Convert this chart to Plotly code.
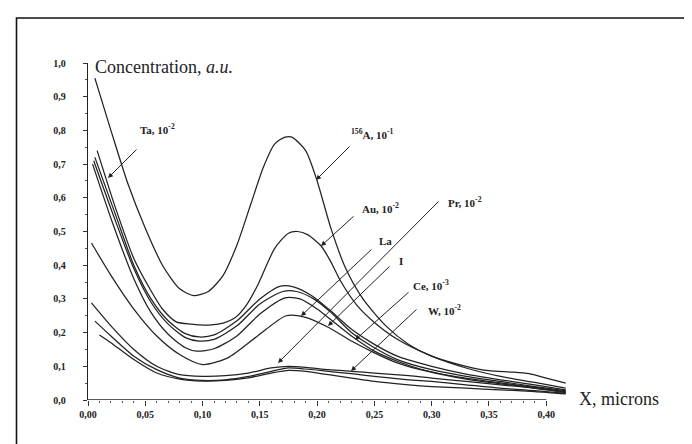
import plotly.graph_objects as go

# ---------------- data ----------------
X_TICKS = [0.00, 0.05, 0.10, 0.15, 0.20, 0.25, 0.30, 0.35, 0.40]
Y_TICKS = [0.0, 0.1, 0.2, 0.3, 0.4, 0.5, 0.6, 0.7, 0.8, 0.9, 1.0]

a156_x = [0.006, 0.02, 0.035, 0.05, 0.065, 0.08, 0.092, 0.105, 0.118, 0.13, 0.142, 0.153,
          0.163, 0.172, 0.178, 0.19, 0.2, 0.212, 0.225, 0.24, 0.26, 0.28, 0.30, 0.33,
          0.35, 0.37, 0.385, 0.40, 0.417]
a156_y = [0.955, 0.80, 0.64, 0.51, 0.40, 0.33, 0.31, 0.322, 0.37, 0.46, 0.58, 0.69,
          0.76, 0.78, 0.78, 0.74, 0.65, 0.51, 0.39, 0.30, 0.22, 0.165, 0.13, 0.10,
          0.087, 0.083, 0.078, 0.065, 0.05]

au_x = [0.008, 0.024, 0.04, 0.054, 0.065, 0.077, 0.09, 0.105, 0.118, 0.128, 0.138, 0.148,
        0.163, 0.175, 0.183, 0.192, 0.2035, 0.212, 0.221, 0.235, 0.25, 0.27, 0.30, 0.33,
        0.36, 0.39, 0.417]
au_y = [0.74, 0.57, 0.42, 0.33, 0.27, 0.232, 0.225, 0.222, 0.228, 0.243, 0.28, 0.34,
        0.45, 0.495, 0.50, 0.49, 0.457, 0.41, 0.35, 0.28, 0.23, 0.18, 0.13, 0.095,
        0.07, 0.052, 0.035]

ta_x = [0.006, 0.024, 0.04, 0.055, 0.07, 0.085, 0.097, 0.11, 0.13, 0.15, 0.168, 0.18,
        0.195, 0.21, 0.23, 0.25, 0.27, 0.30, 0.33, 0.36, 0.39, 0.417]
ta_y = [0.72, 0.55, 0.40, 0.30, 0.235, 0.197, 0.187, 0.193, 0.235, 0.30, 0.338, 0.335,
        0.31, 0.27, 0.21, 0.165, 0.13, 0.10, 0.077, 0.06, 0.045, 0.03]

la_x = [0.005, 0.023, 0.04, 0.055, 0.07, 0.085, 0.097, 0.11, 0.13, 0.15, 0.17, 0.182,
        0.197, 0.212, 0.23, 0.25, 0.27, 0.30, 0.33, 0.36, 0.39, 0.417]
la_y = [0.71, 0.54, 0.39, 0.29, 0.225, 0.185, 0.175, 0.18, 0.22, 0.285, 0.322, 0.322,
        0.30, 0.26, 0.20, 0.155, 0.12, 0.09, 0.07, 0.055, 0.04, 0.028]

i_x = [0.004, 0.022, 0.04, 0.055, 0.07, 0.085, 0.095, 0.11, 0.13, 0.15, 0.172, 0.185,
       0.20, 0.215, 0.23, 0.25, 0.27, 0.29, 0.32, 0.35, 0.38, 0.417]
i_y = [0.70, 0.52, 0.36, 0.26, 0.195, 0.155, 0.145, 0.152, 0.19, 0.255, 0.303, 0.30,
       0.27, 0.23, 0.19, 0.145, 0.115, 0.092, 0.07, 0.055, 0.042, 0.025]

ce_x = [0.003, 0.02, 0.04, 0.06, 0.08, 0.10, 0.122, 0.148, 0.173, 0.19, 0.21, 0.23,
        0.25, 0.27, 0.29, 0.32, 0.35, 0.38, 0.417]
ce_y = [0.466, 0.37, 0.27, 0.19, 0.135, 0.105, 0.125, 0.19, 0.25, 0.245, 0.215, 0.175,
        0.14, 0.11, 0.09, 0.068, 0.052, 0.04, 0.022]

low_x = [0.02, 0.04, 0.06, 0.08, 0.10, 0.12, 0.14, 0.16, 0.175, 0.19, 0.21, 0.23, 0.25,
         0.28, 0.30, 0.33, 0.36, 0.39, 0.417]
pr_y = [0.22, 0.15, 0.10, 0.075, 0.07, 0.072, 0.08, 0.095, 0.10, 0.097, 0.09, 0.085,
        0.08, 0.072, 0.065, 0.055, 0.045, 0.035, 0.025]
w_y = [0.19, 0.13, 0.09, 0.065, 0.058, 0.06, 0.07, 0.085, 0.095, 0.092, 0.085, 0.078,
       0.07, 0.06, 0.055, 0.045, 0.035, 0.028, 0.02]
x3_y = [0.17, 0.12, 0.08, 0.062, 0.056, 0.058, 0.066, 0.08, 0.088, 0.085, 0.075, 0.065,
        0.055, 0.045, 0.04, 0.035, 0.03, 0.025, 0.018]
pr_start = (0.003, 0.288)
w_start = (0.006, 0.234)
x3_start = (0.01, 0.193)

# labels: text, text left/centre (px), arrow tip (px), arrow tail (px)
LABELS = [
    ("Ta, 10<sup>-2</sup>", (130, 121), (100, 170), (130, 140)),
    ("<sup>156</sup>A, 10<sup>-1</sup>", (341, 126), (308, 172), (343, 137)),
    ("Au, 10<sup>-2</sup>", (352, 200), (313, 238), (347, 207)),
    ("Pr, 10<sup>-2</sup>", (438, 194), (270, 355), (432, 192)),
    ("La", (369, 233), (293, 308), (365, 240)),
    ("I", (389, 253), (320, 318), (383, 257)),
    ("Ce, 10<sup>-3</sup>", (403, 277), (347, 332), (402, 283)),
    ("W, 10<sup>-2</sup>", (418, 302), (343, 363), (410, 300)),
]

# ---------------- geometry helpers ----------------
L, R, T, B = 80, 560, 55, 392
W_, H_ = 692, 444


def px(x):
    return (x - L) / (R - L)


def py(y):
    return (B - y) / (B - T)


SERIF = "Liberation Serif, Times New Roman, serif"
LINE = dict(color="#222222", width=1.25, shape="spline", smoothing=0.7)

fig = go.Figure()
curves = [
    (a156_x, a156_y), (au_x, au_y), (ta_x, ta_y), (la_x, la_y), (i_x, i_y), (ce_x, ce_y),
    ([pr_start[0]] + low_x, [pr_start[1]] + pr_y),
    ([w_start[0]] + low_x, [w_start[1]] + w_y),
    ([x3_start[0]] + low_x, [x3_start[1]] + x3_y),
]
for cx, cy in curves:
    fig.add_trace(go.Scatter(x=cx, y=cy, mode="lines", line=LINE,
                             hoverinfo="skip", showlegend=False))

minor_x = [round(i * 0.01, 2) for i in range(0, 41)]

fig.update_layout(
    width=W_, height=H_,
    margin=dict(l=L, r=W_ - R, t=T, b=H_ - B, pad=0),
    paper_bgcolor="white", plot_bgcolor="white",
    separators=", ",
    font=dict(family=SERIF, color="#222"),
    xaxis=dict(range=[0, 0.419], tickvals=X_TICKS, tickformat=".2f",
               ticks="outside", ticklen=5, tickwidth=1.2, tickcolor="#333",
               showline=False, showgrid=False, zeroline=False,
               tickfont=dict(family=SERIF, size=10, color="#222", weight="bold"),
               ticklabelstandoff=0,
               minor=dict(tickmode="array", tickvals=minor_x, ticks="outside",
                          ticklen=2, tickwidth=1, tickcolor="#555", showgrid=False)),
    yaxis=dict(range=[0, 1.0], tickvals=Y_TICKS, tickformat=".1f",
               ticks="outside", ticklen=4, tickwidth=1.2, tickcolor="#333",
               showline=True, linecolor="#222", linewidth=1.3,
               showgrid=False, zeroline=False,
               tickfont=dict(family=SERIF, size=10, color="#222", weight="bold"),
               ticklabelstandoff=15,
               minor=dict(dtick=0.05, ticks="outside", ticklen=2, tickwidth=1,
                          tickcolor="#555", showgrid=False)),
)

shapes = [
    dict(type="rect", xref="paper", yref="paper", x0=px(8.5), x1=px(683), y0=py(443),
         y1=py(10), line=dict(color="#111", width=1.6), fillcolor="rgba(0,0,0,0)"),
    dict(type="line", xref="x", yref="y", x0=X_TICKS[0], x1=X_TICKS[-1], y0=0, y1=0,
         line=dict(color="#222", width=1.3)),
]
fig.update_layout(shapes=shapes)

ann = [
    dict(text="Concentration, <i>a.u.</i>", xref="paper", yref="paper", x=px(85), y=py(59),
         xanchor="left", yanchor="middle", showarrow=False,
         font=dict(family=SERIF, size=18, color="#222")),
    dict(text="X, microns", xref="paper", yref="paper", x=px(569), y=py(391),
         xanchor="left", yanchor="middle", showarrow=False,
         font=dict(family=SERIF, size=18, color="#222")),
]
for text, (tx, ty), (hx, hy), (sx, sy) in LABELS:
    ann.append(dict(text=text, xref="paper", yref="paper", x=px(tx), y=py(ty),
                    xanchor="left", yanchor="middle", showarrow=False,
                    font=dict(family=SERIF, size=11, color="#222", weight="bold")))
    ann.append(dict(text="", xref="paper", yref="paper", x=px(hx), y=py(hy),
                    ax=sx - hx, ay=sy - hy, showarrow=True, arrowhead=2,
                    arrowsize=1.0, arrowwidth=1, arrowcolor="#222"))
fig.update_layout(annotations=ann)

fig.write_html("out.html")
